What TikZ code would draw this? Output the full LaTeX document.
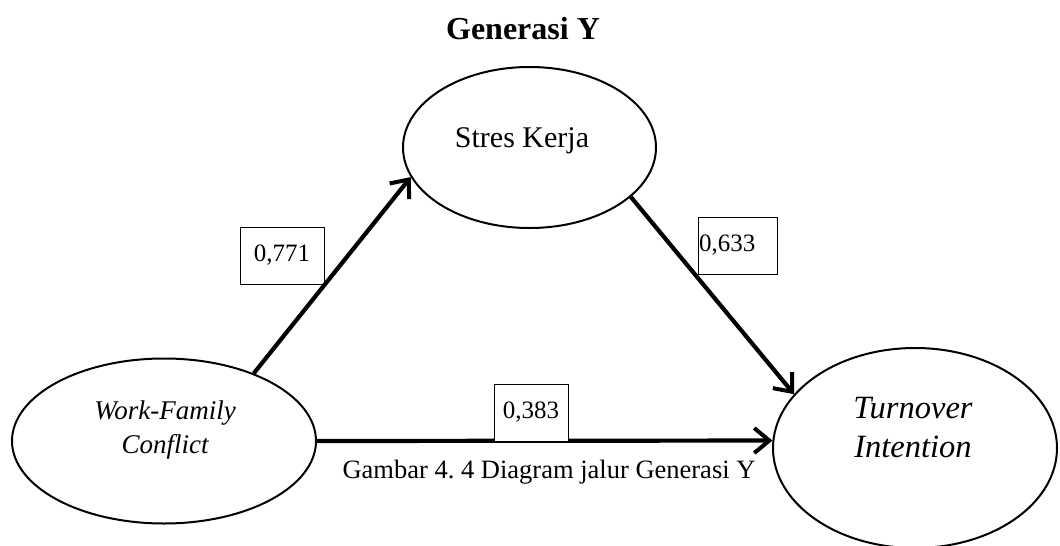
\documentclass[tikz,border=0pt]{standalone}
\usepackage{fontspec}
\setmainfont{Liberation Serif}
\usetikzlibrary{shapes.geometric,arrows.meta}
\begin{document}
\frenchspacing
\begin{tikzpicture}[x=1pt,y=-1pt,
  var/.style={draw,ellipse,line width=2pt,inner sep=0pt},
  lab/.style={align=center,inner sep=0pt},
  coef/.style={draw,line width=1pt,inner sep=0pt,font=\fontsize{25}{28}\selectfont},
  path/.style={line width=4.2pt,-{Straight Barb[length=15pt,width=25pt,line width=4pt]}}]
\useasboundingbox (0,0) rectangle (1060,546);
\node[font=\fontsize{32}{36}\selectfont\bfseries] (title) at (523,29) {Generasi Y};
\node[var,minimum width=253pt,minimum height=161pt] (sk) at (529.5,147.5) {};
\node[lab,font=\fontsize{30}{34}\selectfont] (skl) at (522,141) {Stres Kerja};
\node[var,minimum width=304pt,minimum height=165pt] (wfc) at (164,441) {};
\node[lab,font=\fontsize{27}{34}\selectfont\itshape] (wfcl) at (165,430) {Work-Family\\Conflict};
\node[var,minimum width=284pt,minimum height=200pt] (ti) at (915,448) {};
\node[lab,font=\fontsize{32.5}{39}\selectfont\itshape] (til) at (913,428) {Turnover\\Intention};
\draw[path] (wfc.37) -- (sk.194.6);
\draw[path] (sk.-26.5) -- (ti.156.5);
\draw[path] (wfc.east) -- (ti.177);
\node[coef,minimum width=84pt,minimum height=57pt] (c1) at (282,255.5) {0,771};
\node[coef,minimum width=79pt,minimum height=57pt,text width=77pt,align=left,inner xsep=1pt] (c2) at (737.5,245.5) {0,633};
\node[coef,minimum width=74pt,minimum height=57pt,fill=white] (c3) at (531,412.5) {0,383};
\node[font=\fontsize{26.5}{30}\selectfont] (cap) at (549,472) {Gambar 4. 4 Diagram jalur Generasi Y};
\end{tikzpicture}
\end{document}
